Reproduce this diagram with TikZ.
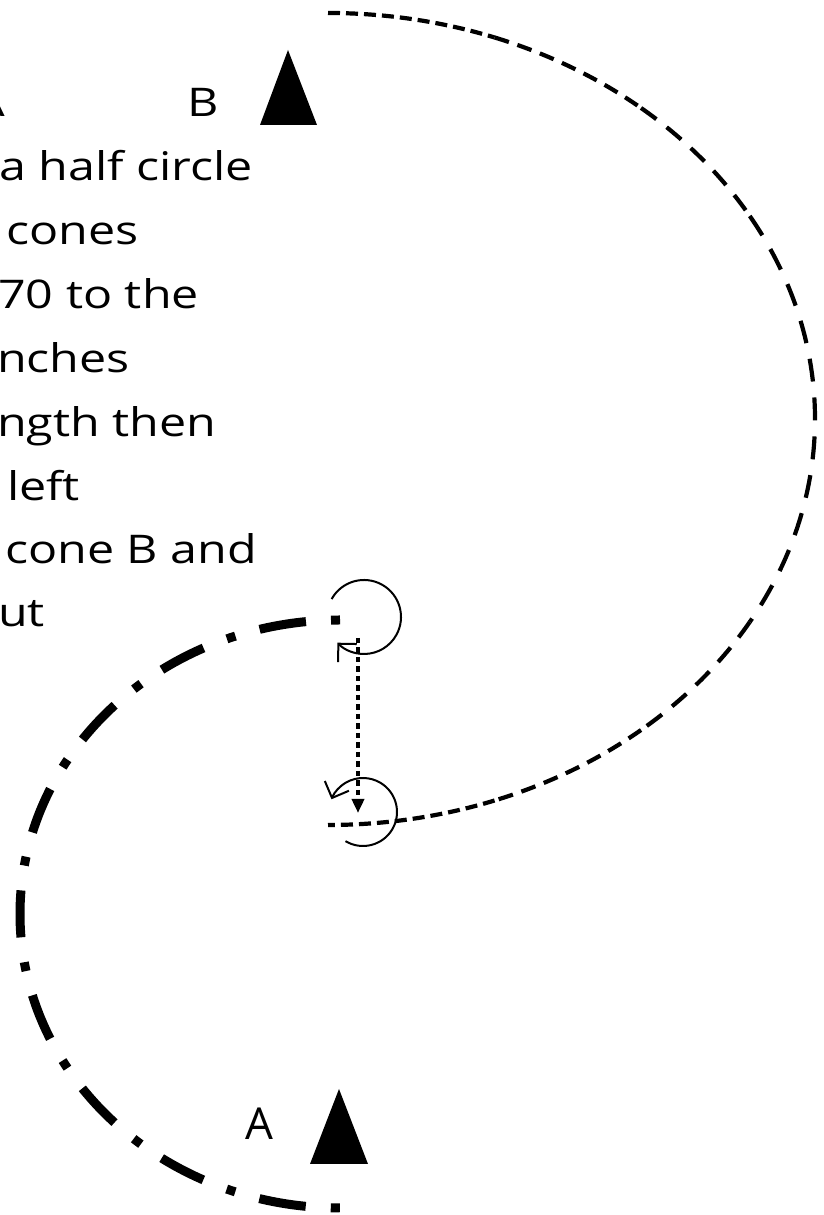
\documentclass[tikz,border=0pt]{standalone}
\usepackage{graphicx}
\usepackage{fontspec}
\setmainfont{Open Sans}
\usetikzlibrary{arrows.meta}
\newcommand\stx[1]{\scalebox{1.225}[1]{#1}}
\begin{document}
\begin{tikzpicture}[x=1pt,y=1pt,
  txt/.style={inner sep=0pt,anchor=base west,font=\fontsize{39.5}{47}\selectfont},
  cone/.style={fill=black,draw=none},
  rarc/.style={line width=4.2pt,line cap=butt},
  larc/.style={line width=9pt,line cap=butt,dash pattern=on 9pt off 25.1pt on 47pt off 25.1pt},
  turn/.style={line width=2pt,-{Straight Barb[length=13pt,width=26pt,line width=2pt]}},
  drop/.style={line width=4.8pt,dash pattern=on 5.5pt off 4pt,-{Triangle[length=14pt,width=12pt]}}]
\useasboundingbox (0,0) rectangle (823,1215);
\clip (0,0) rectangle (823,1215);
\fill[white] (0,0) rectangle (823,1215);

% text block (clipped at the left edge)
\node[txt,anchor=base east] (tA) at (5,1098) {\stx{A}};
\node[txt] (tB) at (187,1098) {\stx{B}};
\node[txt] (l1) at (-1,1034) {\stx{a half circle}};
\node[txt] (l2) at (6,970) {\stx{cones}};
\node[txt] (l3) at (-2,906) {\stx{70 to the}};
\node[txt] (l4) at (-3,842) {\stx{nches}};
\node[txt] (l5) at (-3,778) {\stx{ngth then}};
\node[txt] (l6) at (7,714) {\stx{left}};
\node[txt] (l7) at (5,651) {\stx{cone B and}};
\node[txt] (l8) at (-2,588) {\stx{ut}};

% cones
\fill[cone] (260,1090) -- (288,1165) -- (317,1090) -- cycle;
\fill[cone] (310,51) -- (339,126) -- (368,51) -- cycle;
\node[inner sep=0pt,anchor=base,font=\fontsize{44}{50}\selectfont] (labA) at (259,75) {A};

% large dashed half ellipse (right)
\coordinate (Rc) at (328,796);
\draw[rarc,dash pattern=on 12pt off 6pt] ([shift={(90:487 and 406)}]Rc) arc[start angle=90,end angle=70,x radius=487,y radius=406];
\draw[rarc,dash pattern=on 15pt off 9pt] ([shift={(70:487 and 406)}]Rc) arc[start angle=70,end angle=50,x radius=487,y radius=406];
\draw[rarc,dash pattern=on 19pt off 13pt] ([shift={(50:487 and 406)}]Rc) arc[start angle=50,end angle=30,x radius=487,y radius=406];
\draw[rarc,dash pattern=on 23pt off 16pt] ([shift={(30:487 and 406)}]Rc) arc[start angle=30,end angle=-30,x radius=487,y radius=406];
\draw[rarc,dash pattern=on 19pt off 13pt] ([shift={(-30:487 and 406)}]Rc) arc[start angle=-30,end angle=-50,x radius=487,y radius=406];
\draw[rarc,dash pattern=on 15pt off 9pt] ([shift={(-50:487 and 406)}]Rc) arc[start angle=-50,end angle=-70,x radius=487,y radius=406];
\draw[rarc,dash pattern=on 12pt off 6pt] ([shift={(-70:487 and 406)}]Rc) arc[start angle=-70,end angle=-90,x radius=487,y radius=406];

% thick dash-dot half ellipse (left)
\coordinate (Lc0) at (340,301);
\draw[larc] ([shift={(90:320 and 294)}]Lc0) arc[start angle=90,end angle=270,x radius=320,y radius=294];

% turning circles
\coordinate (Uc) at (364,598);
\coordinate (Lc) at (363,403);
\draw[turn] ([shift={(151:37)}]Uc) arc[start angle=151,end angle=-136,radius=37];
\draw[turn] ([shift={(-121:34)}]Lc) arc[start angle=-121,end angle=158,radius=34];

% dotted drop
\coordinate (dtop) at (358,577);
\coordinate (dbot) at (358,402);
\draw[drop] (dtop) -- (dbot);
\end{tikzpicture}
\end{document}
